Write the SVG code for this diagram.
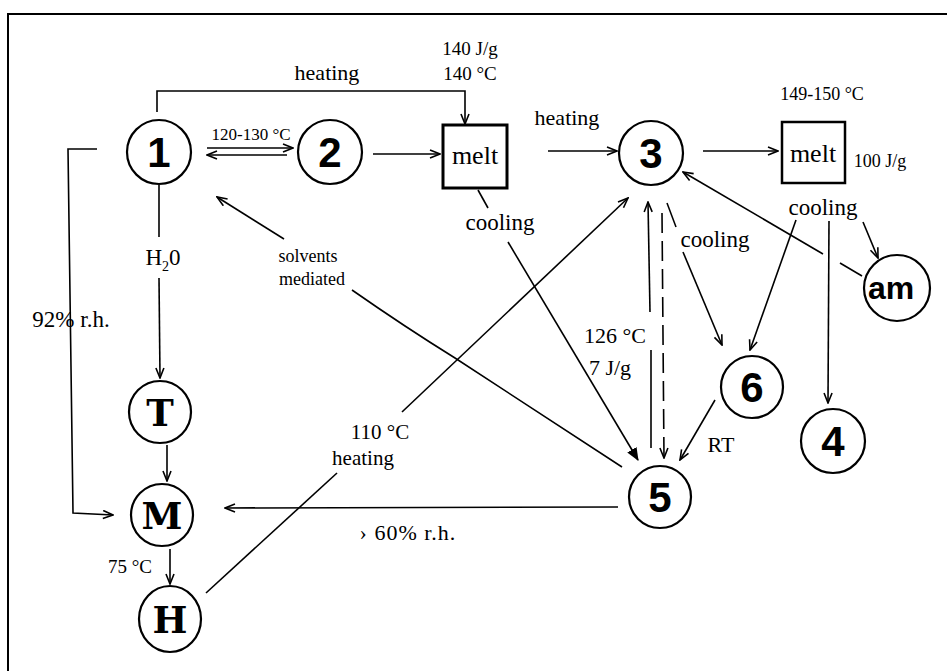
<svg xmlns="http://www.w3.org/2000/svg" width="947" height="671" viewBox="0 0 947 671">
<style>
.ln{fill:none;stroke:#000;stroke-width:1.6}
.nd{fill:#fff;stroke:#000;stroke-width:2.2}
.num{font-family:"Liberation Sans",Arial,sans-serif;font-weight:bold;font-size:42px;text-anchor:middle}
.let{font-family:"DejaVu Serif",serif;font-weight:bold;font-size:37px;text-anchor:middle}
.lb{font-family:"Liberation Serif","Times New Roman",serif;font-size:22px;text-anchor:middle}
.sm{font-family:"Liberation Serif","Times New Roman",serif;font-size:18px;text-anchor:middle}
.mt{font-family:"Liberation Serif","Times New Roman",serif;font-size:26px;text-anchor:middle}
</style>
<defs>
<marker id="oa" viewBox="0 0 12 10" refX="11" refY="5" markerWidth="12" markerHeight="10" markerUnits="userSpaceOnUse" orient="auto"><path d="M1,1 L11,5 L1,9" fill="none" stroke="#000" stroke-width="1.6"/></marker>
<marker id="fa" viewBox="0 0 12 10" refX="11" refY="5" markerWidth="13" markerHeight="11" markerUnits="userSpaceOnUse" orient="auto"><path d="M0,0 L12,5 L0,10 z" fill="#000"/></marker>
</defs>
<rect width="947" height="671" fill="#fff"/>
<path d="M8,671 L8,14 L947,14" fill="none" stroke="#000" stroke-width="2"/>

<g id="connectors">
<path class="ln" d="M157,112 L157,91 L465,91 L465,124" marker-end="url(#oa)"/>
<path class="ln" d="M207,148 L293,148" marker-end="url(#oa)"/>
<path class="ln" d="M287,155 L207,155" marker-end="url(#oa)"/>
<path class="ln" d="M373,154 L440,154" marker-end="url(#oa)"/>
<path class="ln" d="M548,151 L617,151" marker-end="url(#oa)"/>
<path class="ln" d="M703,151 L778,151" marker-end="url(#oa)"/>
<path class="ln" d="M478,190 L488,208"/>
<path class="ln" d="M508,242 L638,460" marker-end="url(#fa)"/>
<path class="ln" d="M284,239 L217,197" marker-end="url(#oa)"/>
<path class="ln" d="M352,290 Q 405,327 455,358 L622,467"/>
<path class="ln" d="M206,593 L337,473"/>
<path class="ln" d="M402,412 L628,198" marker-end="url(#oa)"/>
<path class="ln" d="M651,448 L651,350"/>
<path class="ln" d="M650,312 L648,202" marker-end="url(#oa)"/>
<path class="ln" d="M662,213 L664,458" stroke-dasharray="20,8" marker-end="url(#oa)"/>
<path class="ln" d="M667,203 L676,227"/>
<path class="ln" d="M683,252 L722,345" marker-end="url(#oa)"/>
<path class="ln" d="M796,220 L750,350" marker-end="url(#oa)"/>
<path class="ln" d="M829,221 L828,403" marker-end="url(#oa)"/>
<path class="ln" d="M863,222 L878,258" marker-end="url(#oa)"/>
<path class="ln" d="M862,276 L840,263"/>
<path class="ln" d="M823,254 L683,172" marker-end="url(#oa)"/>
<path class="ln" d="M715,400 L680,460" marker-end="url(#oa)"/>
<path class="ln" d="M618,507 L225,508" marker-end="url(#oa)"/>
<path class="ln" d="M159,185 L159,237"/>
<path class="ln" d="M159,278 L160,378" marker-end="url(#oa)"/>
<path class="ln" d="M167,445 L167,481" marker-end="url(#oa)"/>
<path class="ln" d="M170,549 L170,584" marker-end="url(#oa)"/>
<path class="ln" d="M97,149 L68,149 L73,513 L113,515" marker-end="url(#oa)"/>
</g>

<g id="n1"><circle class="nd" cx="159" cy="152" r="32"/><text class="num" x="159" y="167">1</text></g>
<g id="n2"><circle class="nd" cx="330" cy="152" r="32"/><text class="num" x="330" y="167">2</text></g>
<g id="n3"><circle class="nd" cx="651" cy="153" r="32"/><text class="num" x="651" y="168">3</text></g>
<g id="n4"><circle class="nd" cx="833" cy="441" r="32"/><text class="num" x="833" y="456">4</text></g>
<g id="n5"><circle class="nd" cx="660" cy="497" r="31"/><text class="num" x="660" y="512">5</text></g>
<g id="n6"><circle class="nd" cx="752" cy="387" r="31"/><text class="num" x="752" y="402">6</text></g>
<g id="nam"><circle class="nd" cx="897" cy="288" r="33"/><text x="891" y="299" style="font-family:'Liberation Sans',Arial,sans-serif;font-weight:bold;font-size:32px;text-anchor:middle">am</text></g>
<g id="nT"><circle class="nd" cx="160" cy="412" r="31"/><text class="let" x="160" y="426">T</text></g>
<g id="nM"><circle class="nd" cx="162" cy="515" r="31"/><text class="let" x="162" y="529">M</text></g>
<g id="nH"><ellipse class="nd" cx="170" cy="619" rx="31" ry="33"/><text class="let" x="170" y="633">H</text></g>
<g id="melt1"><rect x="443" y="125" width="64" height="63" fill="#fff" stroke="#000" stroke-width="3"/><text class="mt" x="475" y="164">melt</text></g>
<g id="melt2"><rect x="782" y="122" width="63" height="61" fill="#fff" stroke="#000" stroke-width="2.5"/><text class="mt" x="813" y="162">melt</text></g>

<g id="labels">
<text class="lb" x="327" y="80">heating</text>
<text class="sm" x="470" y="55" style="font-size:19px">140 J/g</text>
<text class="sm" x="470" y="80" style="font-size:19px">140 °C</text>
<text class="sm" x="251" y="140" style="font-size:17px">120-130 °C</text>
<text class="lb" x="567" y="125">heating</text>
<text class="sm" x="822" y="100">149-150 °C</text>
<text class="sm" x="880" y="167">100 J/g</text>
<text class="lb" x="500" y="230" style="font-size:23px">cooling</text>
<text class="lb" x="823" y="215" style="font-size:23px">cooling</text>
<text class="lb" x="715" y="247" style="font-size:23px">cooling</text>
<text class="lb" x="163" y="265" style="font-size:23px">H<tspan font-size="14" dy="6">2</tspan><tspan dy="-6">0</tspan></text>
<text class="sm" x="308" y="262">solvents</text>
<text class="sm" x="312" y="285">mediated</text>
<text class="lb" x="71" y="327" style="font-size:23px">92% r.h.</text>
<text class="lb" x="615" y="343">126 °C</text>
<text class="lb" x="610" y="375">7 J/g</text>
<text class="lb" x="721" y="452">RT</text>
<text class="lb" x="380" y="439" style="font-size:21px">110 °C</text>
<text class="lb" x="363" y="465" style="font-size:21px">heating</text>
<text class="lb" x="408" y="540" style="letter-spacing:1px">› 60% r.h.</text>
<text class="sm" x="130" y="573" style="font-size:19px">75 °C</text>
</g>
</svg>
